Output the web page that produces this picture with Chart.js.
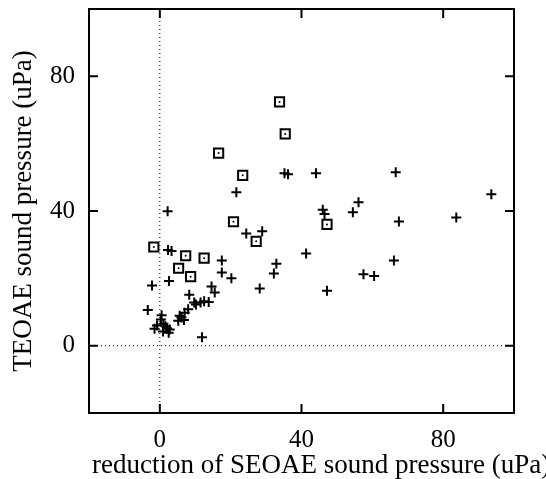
<!DOCTYPE html>
<html>
<head>
<meta charset="utf-8">
<script src="https://cdn.jsdelivr.net/npm/chart.js@4"></script>
<style>
  html, body { margin: 0; padding: 0; background: #fff; }
  #wrap { width: 546px; height: 479px; }
</style>
</head>
<body>
<div id="wrap"><canvas id="chart"></canvas></div>
<script>
const xTitle = 'reduction of SEOAE sound pressure (uPa)';
const yTitle = 'TEOAE sound pressure (uPa)';
const tickValues = [0, 40, 80];
const axisMin = -20;
const axisMax = 100;

// "+" points
const crossX = [66.6, 93.6, 83.7, 67.5, 66.1, 60.5, 57.5,
  35.2, 36.2, 44.1, 56.1, 54.5, 46.0, 46.5, 41.3, 47.2,
  24.4, 28.9, 32.9, 32.2, 28.2, 21.6,
  2.2, 2.3, 3.3, 17.5, 17.5, 20.2, 2.6, -2.2, 8.3, 14.6, 15.5, -3.4, 11.9,
  10.2, 11.5, 12.5, 13.8, 9.7,
  0.5, 0.3, -0.8, 1.0, 2.0, 0.9, 2.5, 1.6, -1.5, 2.8,
  5.6, 5.2, 6.1, 6.8, 8.0, 7.0];
const crossY = [51.5, 45.0, 38.1, 36.9, 25.3, 20.7, 21.2,
  51.2, 50.9, 51.2, 42.6, 39.6, 40.4, 39.1, 27.4, 16.3,
  33.3, 34.0, 24.3, 21.4, 17.0, 45.6,
  39.9, 28.4, 28.1, 25.3, 21.7, 20.0, 19.2, 17.9, 15.1, 17.6, 15.8, 10.6, 2.5,
  12.2, 12.8, 13.2, 13.0, 12.8,
  9.0, 7.8, 6.0, 6.5, 5.2, 4.2, 3.8, 5.8, 5.0, 4.8,
  8.9, 7.4, 8.4, 7.6, 10.8, 9.8];

// square points
const squareX = [-1.7, 7.3, 12.5, 5.3, 8.7, 16.6, 23.4, 33.8, 35.4, 20.8, 27.2, 47.2];
const squareY = [29.3, 26.7, 26.0, 23.0, 20.5, 57.2, 50.6, 72.4, 62.9, 36.8, 31.0, 36.0];

const FONT = 'Liberation Serif';

function toPoints(xs, ys) {
  return xs.map((x, i) => ({ x, y: ys[i] }));
}

const framePlugin = {
  id: 'frame',
  beforeDatasetsDraw(chart) {
    const { ctx, chartArea: a, scales: { x, y } } = chart;
    const x0 = x.getPixelForValue(0);
    const y0 = y.getPixelForValue(0);
    ctx.save();
    ctx.strokeStyle = '#000';
    ctx.lineWidth = 1;
    ctx.setLineDash([1, 3]);
    ctx.beginPath();
    ctx.moveTo(x0, a.top); ctx.lineTo(x0, a.bottom);
    ctx.moveTo(a.left, y0); ctx.lineTo(a.right, y0);
    ctx.stroke();
    ctx.restore();
  },
  afterDraw(chart) {
    const { ctx, chartArea: a, scales: { x, y } } = chart;
    const len = 9;
    ctx.save();
    ctx.strokeStyle = '#000';
    ctx.lineWidth = 2;
    ctx.strokeRect(a.left, a.top, a.right - a.left, a.bottom - a.top);
    ctx.beginPath();
    tickValues.forEach(v => {
      const px = x.getPixelForValue(v);
      const py = y.getPixelForValue(v);
      ctx.moveTo(px, a.bottom); ctx.lineTo(px, a.bottom - len);
      ctx.moveTo(px, a.top); ctx.lineTo(px, a.top + len);
      ctx.moveTo(a.left, py); ctx.lineTo(a.left + len, py);
      ctx.moveTo(a.right, py); ctx.lineTo(a.right - len, py);
    });
    ctx.stroke();

    // x title is wider than the plot, the original runs off the right edge
    ctx.fillStyle = '#000';
    ctx.font = '27px "' + FONT + '"';
    ctx.textAlign = 'left';
    ctx.textBaseline = 'middle';
    ctx.fillText(xTitle, a.left + 3, a.bottom + 53);
    ctx.restore();
  }
};

const fixedTicks = s => { s.ticks = tickValues.map(v => ({ value: v })); };

new Chart(document.getElementById('chart').getContext('2d'), {
  type: 'scatter',
  data: {
    datasets: [
      {
        label: 'plus',
        data: toPoints(crossX, crossY),
        pointStyle: 'cross',
        pointRadius: 5,
        borderColor: '#000',
        borderWidth: 2
      },
      {
        label: 'square',
        data: toPoints(squareX, squareY),
        pointStyle: 'rect',
        pointRadius: 6.5,
        backgroundColor: 'rgba(0,0,0,0)',
        borderColor: '#000',
        borderWidth: 2
      },
      {
        label: 'square centre',
        data: toPoints(squareX, squareY),
        pointStyle: 'circle',
        pointRadius: 1,
        backgroundColor: '#000',
        borderWidth: 0
      }
    ]
  },
  options: {
    responsive: true,
    maintainAspectRatio: false,
    animation: false,
    layout: { padding: { top: 9, right: 32, left: 0, bottom: 0 } },
    plugins: {
      legend: { display: false },
      tooltip: { enabled: false }
    },
    scales: {
      x: {
        type: 'linear',
        min: axisMin,
        max: axisMax,
        afterBuildTicks: fixedTicks,
        afterFit: s => { s.height = 66; s.paddingLeft = 0; s.paddingRight = 0; },
        grid: { display: false, drawTicks: false },
        border: { display: false },
        ticks: { color: '#000', padding: 12, font: { family: FONT, size: 25 } }
      },
      y: {
        type: 'linear',
        min: axisMin,
        max: axisMax,
        afterBuildTicks: fixedTicks,
        afterFit: s => { s.width = 89; s.paddingTop = 0; s.paddingBottom = 0; },
        grid: { display: false, drawTicks: false },
        border: { display: false },
        ticks: { color: '#000', padding: 14, font: { family: FONT, size: 25 } },
        title: {
          display: true,
          text: yTitle,
          color: '#000',
          font: { family: FONT, size: 27, lineHeight: 1 },
          padding: { top: 10, bottom: 0 }
        }
      }
    }
  },
  plugins: [framePlugin]
});
</script>
</body>
</html>
